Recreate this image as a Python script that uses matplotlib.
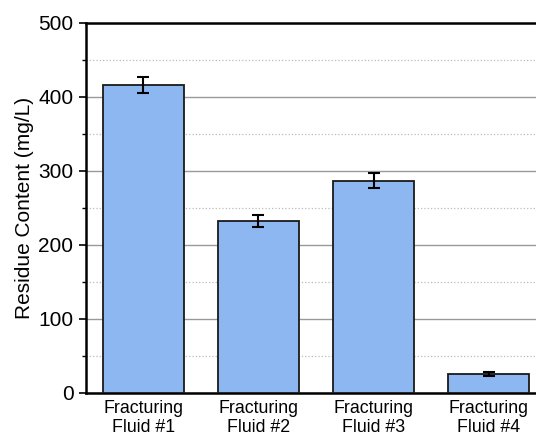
import matplotlib.pyplot as plt
from matplotlib.ticker import MultipleLocator

plt.rcParams['font.family'] = ['Liberation Sans', 'DejaVu Sans']

fluids = ["Fracturing\nFluid #1", "Fracturing\nFluid #2", "Fracturing\nFluid #3", "Fracturing\nFluid #4"]
residue = [416, 232, 287, 26]
errors = [11, 8, 10, 3]

fig = plt.figure(figsize=(5.36, 4.37), dpi=100)
ax = fig.add_axes([0.1604, 0.1007, 0.8583, 0.8467])

x = range(len(fluids))
ax.bar(x, residue, width=0.7, color='#8db7f0', edgecolor='#1a1a1a', linewidth=1.3, zorder=3)
ax.errorbar(x, residue, yerr=errors, fmt='none', ecolor='black', elinewidth=1.5,
            capsize=4, capthick=1.5, zorder=4)

ax.set_xlim(-0.5, 3.5)
ax.set_ylim(0, 500)
ax.yaxis.set_major_locator(MultipleLocator(100))
ax.yaxis.set_minor_locator(MultipleLocator(50))
ax.grid(axis='y', which='major', color='#999999', linewidth=1, zorder=0)
ax.grid(axis='y', which='minor', color='#bbbbbb', linestyle=':', linewidth=0.9, zorder=0)

ax.set_xticks(list(x))
ax.set_xticklabels(fluids, fontsize=12.8, linespacing=1.15)
ax.tick_params(axis='x', length=0, pad=5)
ax.tick_params(axis='y', which='major', direction='out', length=5, width=1.2, labelsize=15, pad=4)
ax.tick_params(axis='y', which='minor', direction='out', length=3, width=1.0)
ax.set_ylabel("Residue Content (mg/L)", fontsize=15, labelpad=3)

for s in ax.spines.values():
    s.set_linewidth(1.8)

fig.savefig("out.png", dpi=100)
